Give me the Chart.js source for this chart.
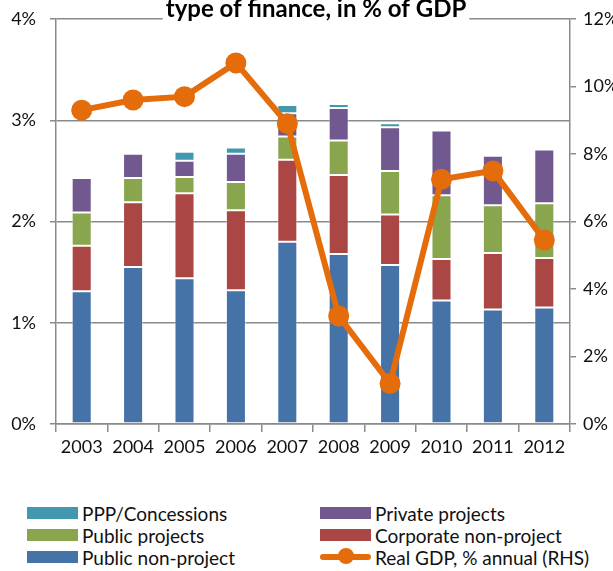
<!DOCTYPE html>
<html>
<head>
<meta charset="utf-8">
<script src="https://cdn.jsdelivr.net/npm/chart.js@4/dist/chart.umd.min.js"></script>
<style>
  html, body { margin: 0; padding: 0; background: #fff; }
  #wrap { position: relative; width: 613px; height: 571px; overflow: hidden; font-family: Lato, "Noto Sans", sans-serif; }
  #box { position: absolute; left: 0; top: 0; width: 613px; height: 471px; }
  #legend { position: absolute; left: 0; top: 502px; width: 613px; }
  .item { position: absolute; display: flex; align-items: center; font-size: 19px; color: #111; white-space: nowrap; height: 22px; }
  .swatch { width: 51px; height: 12px; margin-right: 4px; }
  .lineSwatch { position: relative; width: 51px; height: 12px; margin-right: 4px; }
  .lineSwatch::before { content: ''; position: absolute; left: 0; right: 0; top: 3px; height: 6px; border-radius: 3px; background: var(--c); }
  .lineSwatch::after { content: ''; position: absolute; left: 18px; top: -3px; width: 16px; height: 16px; border-radius: 50%; background: var(--c); }
</style>
</head>
<body>
<div id="wrap">
  <div id="box"><canvas id="chart"></canvas></div>
  <div id="legend"></div>
</div>
<script>
'use strict';

const years = ['2003', '2004', '2005', '2006', '2007', '2008', '2009', '2010', '2011', '2012'];

// investment by type of finance, % of GDP (stacked bottom to top)
const publicNonProject    = [1.31, 1.55, 1.44, 1.32, 1.80, 1.68, 1.57, 1.22, 1.13, 1.15];
const corporateNonProject = [0.45, 0.64, 0.84, 0.79, 0.81, 0.78, 0.50, 0.41, 0.56, 0.49];
const publicProjects      = [0.33, 0.24, 0.16, 0.28, 0.23, 0.34, 0.43, 0.63, 0.47, 0.54];
const privateProjects     = [0.34, 0.24, 0.16, 0.28, 0.23, 0.32, 0.43, 0.64, 0.49, 0.53];
const pppConcessions      = [0.00, 0.00, 0.09, 0.06, 0.08, 0.04, 0.04, 0.00, 0.00, 0.00];

// real GDP growth, % annual (right axis)
const realGdp = [9.3, 9.6, 9.7, 10.7, 8.9, 3.2, 1.2, 7.25, 7.5, 5.45];

const leftTicks  = [0, 1, 2, 3, 4];
const rightTicks = [0, 2, 4, 6, 8, 10, 12];

const TITLE = 'type of finance, in % of GDP';
const FONT  = 'Lato, "Noto Sans", sans-serif';
const GRID  = '#8a8a8a';
const ORANGE = '#E46C0A';

const bar = (label, data, color) => ({
  type: 'bar',
  label,
  data,
  backgroundColor: color,
  borderColor: 'rgba(255,255,255,0.45)',
  borderWidth: 1,
  borderSkipped: false,
  barPercentage: 0.78,
  categoryPercentage: 0.5,
  yAxisID: 'y',
  stack: 'finance',
  order: 1,
});

const datasets = [
  bar('Public non-project', publicNonProject, '#4572A7'),
  bar('Corporate non-project', corporateNonProject, '#AA4643'),
  bar('Public projects', publicProjects, '#89A54E'),
  bar('Private projects', privateProjects, '#71588F'),
  bar('PPP/Concessions', pppConcessions, '#4198AF'),
  {
    type: 'line',
    label: 'Real GDP, % annual (RHS)',
    data: realGdp,
    borderColor: ORANGE,
    backgroundColor: ORANGE,
    borderWidth: 6,
    pointRadius: 10.5,
    pointHoverRadius: 10.5,
    pointBorderWidth: 0,
    tension: 0,
    yAxisID: 'y1',
    order: 0,
  },
];

// clipped title line sitting over the top gridline
const titlePlugin = {
  id: 'topTitle',
  afterDraw(chart) {
    const ctx = chart.ctx;
    ctx.save();
    ctx.font = 'bold 24px ' + FONT;
    const w = ctx.measureText(TITLE).width;
    const cx = 316;
    ctx.fillStyle = '#fff';
    ctx.fillRect(cx - w / 2 - 3, 0, w + 6, 23);
    ctx.fillStyle = '#000';
    ctx.textAlign = 'center';
    ctx.textBaseline = 'alphabetic';
    ctx.fillText(TITLE, cx, 17);
    ctx.restore();
  },
};

// fixed axis widths, no extra label overflow padding
const fitY = w => s => { s.width = w; s.paddingTop = 0; s.paddingBottom = 0; };

new Chart(document.getElementById('chart'), {
  data: { labels: years, datasets },
  plugins: [titlePlugin],
  options: {
    responsive: true,
    maintainAspectRatio: false,
    animation: false,
    layout: { padding: { top: 19, left: 0, right: 0, bottom: 0 } },
    plugins: {
      legend: { display: false },
      title: { display: false },
      tooltip: { enabled: false },
    },
    scales: {
      x: {
        stacked: true,
        afterFit: s => { s.height = 47; s.paddingLeft = 0; s.paddingRight = 0; },
        grid: { offset: true, drawOnChartArea: false, drawTicks: true, tickLength: 8, color: GRID, lineWidth: 1.5 },
        border: { display: true, color: GRID, width: 1.5 },
        ticks: { color: '#111', font: { family: FONT, size: 18 }, padding: 4, maxRotation: 0 },
      },
      y: {
        stacked: true,
        position: 'left',
        min: 0,
        max: 4,
        afterFit: fitY(56),
        afterBuildTicks: s => { s.ticks = leftTicks.map(v => ({ value: v })); },
        grid: { drawOnChartArea: true, tickLength: 6, color: GRID, lineWidth: 1.5 },
        border: { display: true, color: GRID, width: 1.5 },
        ticks: { color: '#111', font: { family: FONT, size: 18 }, padding: 14, callback: v => v + '%' },
      },
      y1: {
        position: 'right',
        min: 0,
        max: 12,
        afterFit: fitY(43),
        afterBuildTicks: s => { s.ticks = rightTicks.map(v => ({ value: v })); },
        grid: { drawOnChartArea: false, tickLength: 6, color: GRID, lineWidth: 1.5 },
        border: { display: true, color: GRID, width: 1.5 },
        ticks: { color: '#111', font: { family: FONT, size: 18 }, padding: 7, callback: v => v + '%' },
      },
    },
  },
});

// two-column legend below the plot
const legendOrder = [
  ['PPP/Concessions', 0, 0], ['Private projects', 1, 0],
  ['Public projects', 0, 1], ['Corporate non-project', 1, 1],
  ['Public non-project', 0, 2], ['Real GDP, % annual (RHS)', 1, 2],
];
const legend = document.getElementById('legend');
legendOrder.forEach(([label, col, row]) => {
  const ds = datasets.find(d => d.label === label);
  const item = document.createElement('div');
  item.className = 'item';
  item.style.left = (col ? 320 : 27) + 'px';
  item.style.top = (row * 22) + 'px';
  const sw = document.createElement('span');
  if (ds.type === 'line') {
    sw.className = 'lineSwatch';
    sw.style.setProperty('--c', ds.borderColor);
  } else {
    sw.className = 'swatch';
    sw.style.background = ds.backgroundColor;
  }
  const txt = document.createElement('span');
  txt.textContent = label;
  item.appendChild(sw);
  item.appendChild(txt);
  legend.appendChild(item);
});
</script>
</body>
</html>
